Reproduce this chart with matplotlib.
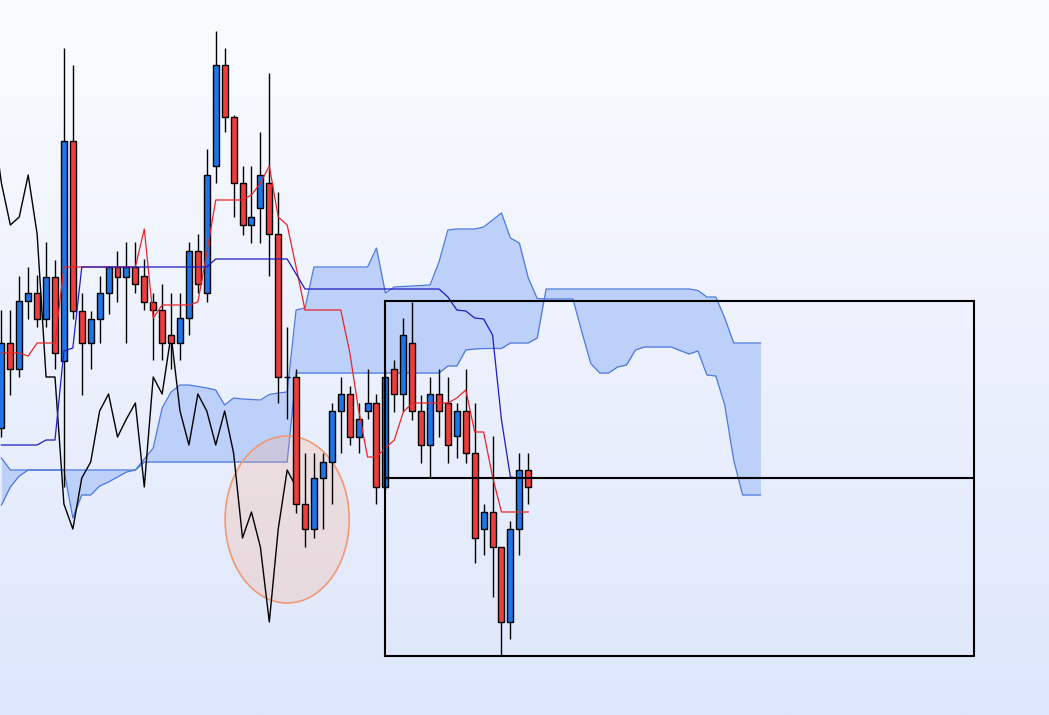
import numpy as np
import matplotlib
matplotlib.use("Agg")
import matplotlib.pyplot as plt
from matplotlib.patches import Rectangle, Ellipse

# ---- data (price units, arbitrary scale) ----
opens = [287, 372, 346, 414, 422, 396, 438, 354, 574, 404, 372, 396, 422, 448, 438,
         448, 439, 413, 405, 380, 372, 397, 464, 422, 549, 650, 598, 532, 490, 507,
         532, 481, 338, 338, 211, 186, 237, 253, 304, 321, 278, 304, 312, 228, 346,
         321, 372, 304, 270, 321, 312, 279, 304, 262, 186, 203, 168, 93, 186, 245]
highs = [405, 405, 439, 448, 440, 473, 455, 667, 650, 422, 404, 439, 449, 464, 473,
         473, 456, 422, 431, 422, 422, 473, 481, 566, 684, 667, 600, 549, 549, 583,
         642, 523, 388, 346, 262, 262, 262, 312, 338, 329, 312, 346, 321, 345, 355,
         397, 413, 320, 338, 346, 338, 312, 346, 312, 211, 279, 168, 194, 262, 262]
lows = [278, 320, 338, 396, 388, 388, 346, 228, 396, 320, 346, 372, 401, 413, 372,
        422, 405, 355, 355, 346, 355, 380, 422, 413, 532, 583, 498, 480, 472, 472,
        439, 312, 296, 202, 168, 177, 186, 211, 262, 270, 262, 296, 211, 225, 303,
        303, 295, 252, 238, 278, 252, 257, 252, 152, 160, 118, 59, 76, 160, 211]
closes = [372, 346, 414, 422, 396, 438, 362, 574, 404, 372, 396, 422, 448, 438, 448,
          431, 413, 405, 372, 372, 397, 464, 431, 540, 650, 598, 532, 490, 498, 540,
          481, 338, 338, 211, 186, 237, 253, 304, 321, 278, 296, 312, 228, 338, 321,
          380, 304, 270, 321, 304, 270, 304, 262, 177, 203, 168, 93, 186, 245, 228]

tenkan = [362, 362, 362, 359, 372, 372, 372, 448, 448, 448, 448, 448, 448, 448, 448,
          448, 486, 397, 410, 410, 410, 410, 413, 462, 515, 515, 515, 515, 520, 532,
          549, 498, 490, 448, 405, 405, 405, 405, 405, 363, 305, 258, 258, 267, 275,
          303, 312, 312, 312, 312, 312, 317, 325, 283, 283, 238, 203, 203, 203, 203]
kijun = [270, 270, 270, 270, 270, 275, 275, 364, 367, 448, 448, 448, 448, 448, 448,
         448, 448, 448, 448, 448, 448, 448, 448, 448, 456, 456, 456, 456, 456, 456,
         456, 456, 456, 441, 426, 426, 426, 426, 426, 426, 426, 426, 426, 426, 426,
         426, 426, 426, 426, 426, 418, 405, 404, 397, 396, 380, 295, 238, 237, 237]

span_a = [257, 245, 245, 245, 245, 245, 245, 245, 245, 245, 245, 245, 245, 245, 245,
          245, 256, 267, 307, 323, 330, 330, 328.5, 327, 325, 310, 317, 316, 315.5, 315,
          320.5, 322, 323, 405, 407, 448, 448, 448, 448, 448, 448, 448, 467, 422, 428,
          428.5, 429, 429.5, 430, 453, 485, 486, 486, 486, 488, 495, 502, 477, 472, 437,
          416.5, 416, 416, 416, 416, 383, 351.5, 342, 342, 348, 350, 365, 368, 368, 368,
          368, 364.5, 361, 364, 340, 339, 310, 255, 220, 220, 220]
span_b = [210, 228, 239, 245, 245, 245, 245, 245, 197, 220, 220, 229, 233, 238, 243,
          245, 253, 253, 253, 253, 253, 253, 253, 253, 253, 253, 253, 253, 253, 253,
          253, 253, 253, 342, 342, 342, 342, 342, 342, 342, 342, 342, 342, 342, 342,
          342, 342, 342, 342, 342, 349, 349, 365, 366, 366.5, 366.5, 366.5, 372, 372, 372,
          377, 426, 426, 426, 426, 426, 426, 426, 426, 426, 426, 426, 426, 426, 426,
          426, 426, 426, 424.5, 418, 418, 397, 372, 372, 372, 372]

displacement = 26

# annotation zone (box) and highlight ellipse
zone_start, zone_end = 43, 108.9
zone_top, zone_mid, zone_bottom = 414, 237, 59
hl_center_x, hl_center_y = 32, 195.5
hl_width, hl_height = 13.9, 167

# ---- figure ----
fig = plt.figure(figsize=(10.49, 7.15), dpi=100)
ax = fig.add_axes([0, 0, 1, 1])
x0, x1 = -0.157, 117.31
y0, y1 = 0, 715
ax.set_xlim(x0, x1)
ax.set_ylim(y0, y1)
ax.axis('off')

# background gradient
t = np.linspace(0, 1, 256)[:, None, None]
top = np.array([251, 252, 255]) / 255
bot = np.array([221, 230, 251]) / 255
grad = top * (1 - t) + bot * t
grad = np.repeat(grad, 2, axis=1)
ax.imshow(grad, extent=[x0, x1, y0, y1], origin='upper', aspect='auto', zorder=0)

# cloud
xc = np.arange(len(span_a))
ax.fill_between(xc, span_a, span_b, color='#bdd0f9', lw=0, zorder=1)
ax.plot(xc, span_a, color='#4d78e0', lw=0.9, zorder=1.5)
ax.plot(xc, span_b, color='#4d78e0', lw=0.9, zorder=1.5)

# highlight ellipse
ax.add_patch(Ellipse((hl_center_x, hl_center_y), hl_width, hl_height,
                     facecolor=(248 / 255, 174 / 255, 140 / 255, 0.25),
                     edgecolor='#f09a74', lw=1.2, zorder=2))

# chikou span (close shifted back)
xs = np.arange(len(closes)) - displacement
ax.plot(xs[displacement - 1:], closes[displacement - 1:], color='black', lw=1.0, zorder=2.5)

# candles
bw = 0.67
for i, (o, h, l, c) in enumerate(zip(opens, highs, lows, closes)):
    ax.vlines(i, l, h, color='black', lw=1.0, zorder=3)
    if c == o:
        ax.hlines(c, i - bw / 2, i + bw / 2, color='black', lw=1.0, zorder=4)
        continue
    col = '#1f74e8' if c > o else '#ef3d3d'
    ax.add_patch(Rectangle((i - bw / 2, min(o, c)), bw, abs(c - o),
                           facecolor=col, edgecolor='black', lw=1.0, zorder=4))

# tenkan / kijun
xi = np.arange(len(tenkan))
ax.plot(xi, tenkan, color='#e8262a', lw=0.9, zorder=5)
ax.plot(xi, kijun, color='#1c1cc0', lw=0.9, zorder=5)

# zone box
ax.plot([zone_start, zone_end, zone_end, zone_start, zone_start],
        [zone_top, zone_top, zone_bottom, zone_bottom, zone_top],
        color='black', lw=1.5, zorder=6, solid_joinstyle='miter')
ax.plot([zone_start, zone_end], [zone_mid, zone_mid], color='black', lw=1.5, zorder=6)

fig.savefig('out.png', dpi=100)
